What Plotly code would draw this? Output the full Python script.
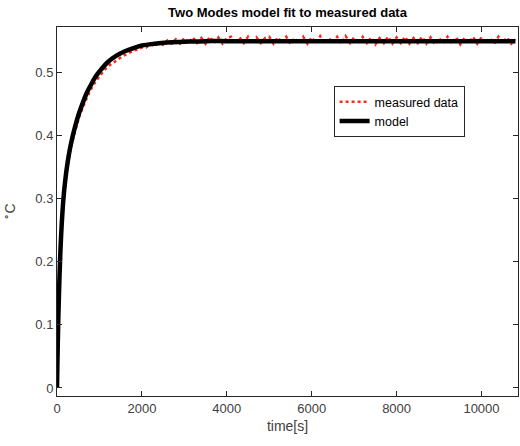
import plotly.graph_objects as go

# ---- data ----
model_t = [0, 10, 20, 30, 40, 60, 80, 100, 130, 160, 200, 250, 300, 350, 400,
           500, 600, 700, 800, 900, 1000, 1200, 1400, 1600, 1800, 2000, 2300,
           2600, 3000, 3500, 4000, 5000, 6000, 7000, 8000, 9000, 10000, 10800]
model_y = [0.000, 0.040, 0.075, 0.106, 0.133, 0.179, 0.216, 0.245, 0.280, 0.306,
           0.332, 0.357, 0.377, 0.393, 0.407, 0.431, 0.450, 0.467, 0.480, 0.492,
           0.501, 0.516, 0.526, 0.533, 0.538, 0.542, 0.545, 0.547, 0.548, 0.549,
           0.549, 0.549, 0.549, 0.549, 0.549, 0.549, 0.549, 0.549]

meas_t = [0, 5, 10, 20, 30, 45, 60, 80, 100, 130, 160, 200, 250, 300, 350, 400,
          450, 500, 550, 600, 650, 700, 750, 800, 850, 900, 950, 1000, 1100, 1200,
          1300, 1400, 1500, 1600, 1700, 1800, 1900, 2000,
          2100, 2200, 2300, 2400, 2500, 2600, 2700, 2800, 2900, 3000,
          3100, 3200, 3300, 3400, 3500, 3600, 3700, 3800, 3900, 4000,
          4100, 4200, 4300, 4400, 4500, 4600, 4700, 4800, 4900, 5000,
          5100, 5200, 5300, 5400, 5500, 5600, 5700, 5800, 5900, 6000,
          6100, 6200, 6300, 6400, 6500, 6600, 6700, 6800, 6900, 7000,
          7100, 7200, 7300, 7400, 7500, 7600, 7700, 7800, 7900, 8000,
          8100, 8200, 8300, 8400, 8500, 8600, 8700, 8800, 8900, 9000,
          9100, 9200, 9300, 9400, 9500, 9600, 9700, 9800, 9900, 10000,
          10100, 10200, 10300, 10400, 10500, 10600, 10700, 10800]
meas_y = [0.004, 0.012, 0.036, 0.070, 0.102, 0.144, 0.174, 0.210, 0.240, 0.275,
          0.302, 0.327, 0.352, 0.371, 0.387, 0.401, 0.413, 0.424, 0.434, 0.443,
          0.451, 0.459, 0.466, 0.473, 0.479, 0.484, 0.489, 0.494, 0.502, 0.509,
          0.514, 0.519, 0.523, 0.527, 0.531, 0.534, 0.536, 0.539,
          0.539, 0.544, 0.541, 0.547, 0.543, 0.550, 0.545, 0.552, 0.545, 0.554,
          0.546, 0.555, 0.546, 0.554, 0.545, 0.556, 0.546, 0.555, 0.545, 0.554,
          0.556, 0.545, 0.555, 0.546, 0.556, 0.545, 0.555, 0.546, 0.554, 0.556,
          0.545, 0.555, 0.546, 0.556, 0.545, 0.554, 0.546, 0.556, 0.545, 0.555,
          0.546, 0.557, 0.545, 0.554, 0.546, 0.556, 0.545, 0.557, 0.546, 0.555,
          0.545, 0.556, 0.546, 0.555, 0.544, 0.554, 0.546, 0.556, 0.545, 0.555,
          0.546, 0.556, 0.545, 0.554, 0.546, 0.556, 0.545, 0.555, 0.544, 0.554,
          0.546, 0.556, 0.545, 0.555, 0.544, 0.554, 0.546, 0.556, 0.545, 0.555,
          0.546, 0.554, 0.545, 0.556, 0.546, 0.555, 0.545, 0.552]

x_ticks = [0, 2000, 4000, 6000, 8000, 10000]
x_tick_labels = ["0", "2000", "4000", "6000", "8000", "10000"]
y_ticks = [0, 0.1, 0.2, 0.3, 0.4, 0.5]
y_tick_labels = ["0", "0.1", "0.2", "0.3", "0.4", "0.5"]

FONT = "Liberation Sans, Arial, Helvetica, sans-serif"
AX = "#262626"

fig = go.Figure()
fig.add_trace(go.Scatter(x=meas_t, y=meas_y, mode="lines", name="measured data",
                         line=dict(color="#ff2a1a", width=2.5, dash="dot")))
fig.add_trace(go.Scatter(x=model_t, y=model_y, mode="lines", name="model",
                         line=dict(color="black", width=4.5, shape="spline")))

axis_common = dict(showline=True, linecolor=AX, linewidth=1, mirror="ticks",
                   ticks="inside", ticklen=5, tickcolor=AX, tickwidth=1,
                   showgrid=False, zeroline=False, automargin=False,
                   tickfont=dict(family=FONT, size=13, color="#404040"))

fig.update_layout(
    width=520, height=446,
    margin=dict(l=57, r=2, t=27, b=50),
    paper_bgcolor="white", plot_bgcolor="white",
    title=dict(text="<b>Two Modes model fit to measured data</b>",
               xref="paper", x=0.5, xanchor="center", y=0.973, yanchor="middle",
               font=dict(family=FONT, size=13, color="black")),
    xaxis=dict(range=[0, 10860], tickvals=x_ticks, ticktext=x_tick_labels,
               title=dict(text="time[s]", standoff=6,
                          font=dict(family=FONT, size=14, color="#404040")),
               **axis_common),
    yaxis=dict(range=[-0.0127, 0.5714], tickvals=y_ticks, ticktext=y_tick_labels,
               title=dict(text="<sup>∘</sup>C", standoff=18,
                          font=dict(family=FONT, size=14, color="#404040")),
               **axis_common),
    legend=dict(x=0.600, y=0.840, xanchor="left", yanchor="top",
                bgcolor="white", bordercolor=AX, borderwidth=1,
                font=dict(family=FONT, size=12.5, color="black"),
                tracegroupgap=0, itemwidth=30),
    showlegend=True,
)

fig.write_html("out.html", config={"displayModeBar": False},
               post_script="document.body.style.margin='0px';document.body.style.overflow='hidden';")
